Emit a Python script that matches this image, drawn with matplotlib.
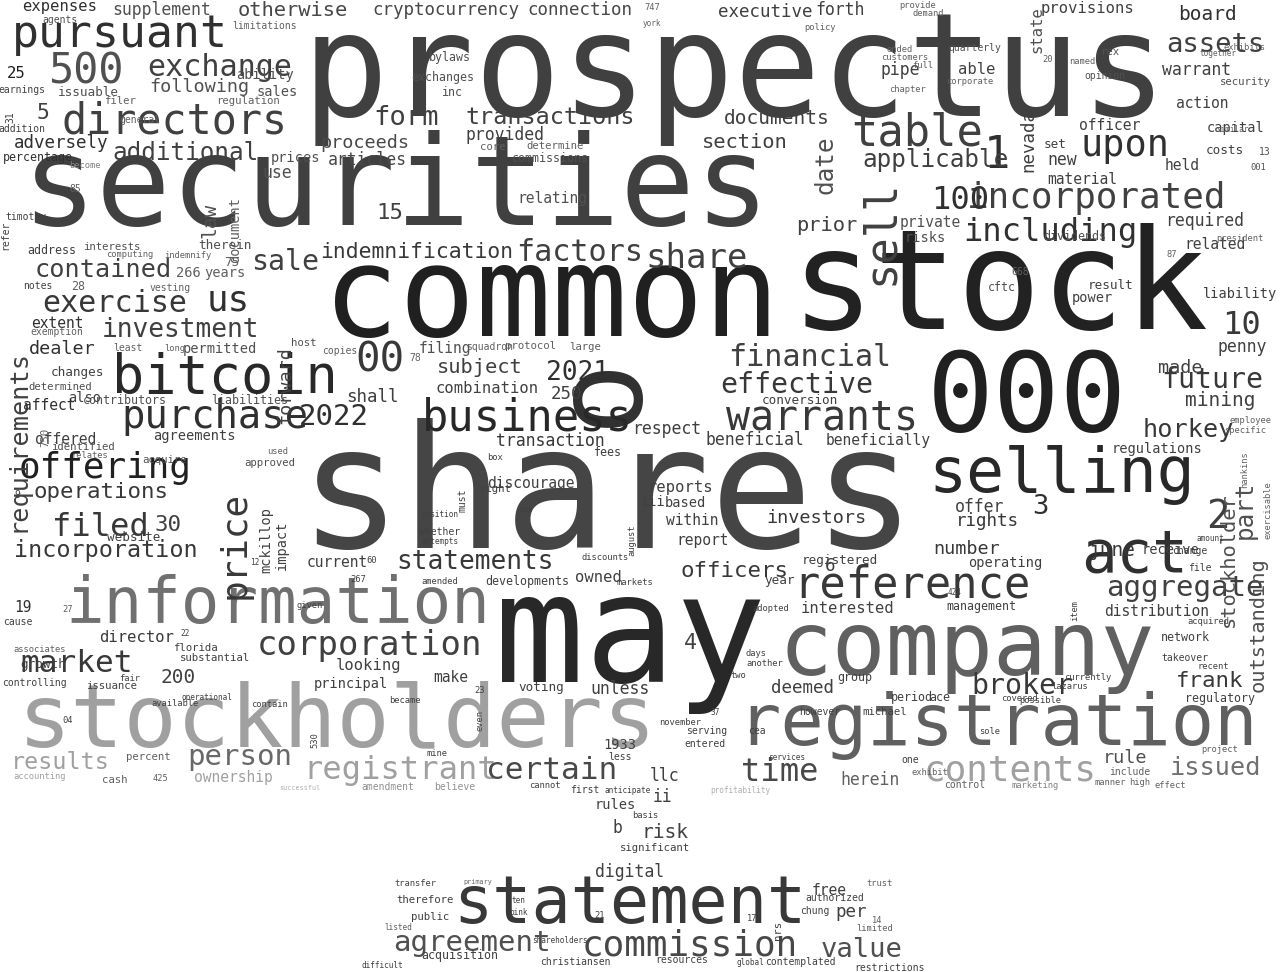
import matplotlib
matplotlib.use("Agg")
import matplotlib.pyplot as plt

# word cloud layout: word, x, y (pixel centres), size (px), grey (0-255), rotation
cloud = [
    ("prospectus", 735, 75, 148, 0x40, 0), ("securities", 395, 190, 128, 0x40, 0),
    ("common", 551, 300, 130, 0x20, 0), ("stock", 1000, 290, 143, 0x22, 0),
    ("shares", 607, 500, 176, 0x45, 0), ("may", 630, 640, 155, 0x28, 0),
    ("000", 1027, 400, 114, 0x20, 0), ("o", 600, 390, 125, 0x30, 90),
    ("information", 278, 605, 66, 0x70, 0), ("stockholders", 337, 722, 91, 0xa0, 0),
    ("company", 967, 650, 92, 0x60, 0), ("registration", 997, 725, 74, 0x60, 0),
    ("act", 1135, 555, 61, 0x30, 0), ("selling", 1062, 475, 65, 0x28, 0),
    ("statement", 630, 905, 67, 0x38, 0), ("bitcoin", 225, 378, 55, 0x28, 0),
    ("pursuant", 120, 35, 46, 0x30, 0), ("directors", 175, 122, 43, 0x40, 0),
    ("500", 86, 72, 43, 0x50, 0), ("exchange", 220, 67, 31, 0x40, 0),
    ("table", 917, 133, 45, 0x40, 0), ("upon", 1125, 145, 38, 0x30, 0),
    ("1", 997, 155, 45, 0x30, 0), ("incorporated", 1097, 198, 37, 0x40, 0),
    ("100", 960, 200, 33, 0x30, 0), ("sell", 880, 232, 45, 0x40, 90),
    ("including", 1050, 232, 33, 0x30, 0), ("reference", 912, 585, 45, 0x38, 0),
    ("price", 235, 545, 37, 0x38, 90), ("purchase", 215, 417, 40, 0x30, 0),
    ("business", 527, 418, 45, 0x28, 0), ("warrants", 822, 418, 41, 0x38, 0),
    ("financial", 810, 357, 31, 0x40, 0), ("effective", 797, 385, 29, 0x38, 0),
    ("2022", 334, 417, 30, 0x30, 0), ("offering", 105, 468, 37, 0x20, 0),
    ("filed", 100, 527, 33, 0x38, 0), ("exercise", 115, 303, 31, 0x38, 0),
    ("us", 228, 300, 37, 0x30, 0), ("investment", 180, 330, 27, 0x40, 0),
    ("contained", 103, 270, 26, 0x40, 0), ("00", 380, 360, 42, 0x38, 0),
    ("market", 77, 663, 32, 0x38, 0), ("corporation", 370, 645, 35, 0x40, 0),
    ("person", 240, 757, 30, 0x68, 0), ("registrant", 400, 770, 33, 0xa0, 0),
    ("contents", 1010, 770, 37, 0xa0, 0), ("certain", 552, 770, 32, 0x48, 0),
    ("time", 780, 772, 33, 0x48, 0), ("issued", 1216, 768, 26, 0x70, 0),
    ("results", 60, 762, 24, 0xa0, 0), ("ownership", 233, 777, 15, 0xa0, 0),
    ("broker", 1022, 686, 29, 0x38, 0), ("frank", 1210, 681, 23, 0x38, 0),
    ("deemed", 802, 688, 18, 0x40, 0), ("aggregate", 1185, 588, 30, 0x40, 0),
    ("2", 1218, 517, 40, 0x40, 0), ("3", 1040, 507, 28, 0x30, 0),
    ("part", 1245, 510, 25, 0x50, 90), ("stockholder", 1228, 560, 21, 0x50, 90),
    ("outstanding", 1258, 625, 21, 0x50, 90), ("future", 1212, 380, 29, 0x38, 0),
    ("mining", 1220, 400, 20, 0x40, 0), ("horkey", 1188, 430, 26, 0x38, 0),
    ("10", 1242, 325, 33, 0x38, 0), ("penny", 1242, 347, 17, 0x40, 0),
    ("made", 1180, 368, 19, 0x40, 0), ("transactions", 550, 117, 24, 0x40, 0),
    ("form", 406, 118, 28, 0x40, 0), ("section", 745, 143, 21, 0x40, 0),
    ("applicable", 935, 160, 25, 0x40, 0), ("documents", 777, 118, 20, 0x40, 0),
    ("executive", 765, 12, 18, 0x40, 0), ("forth", 840, 10, 17, 0x40, 0),
    ("date", 825, 165, 25, 0x50, 90), ("additional", 186, 153, 25, 0x40, 0),
    ("proceeds", 365, 143, 19, 0x48, 0), ("articles", 367, 160, 17, 0x48, 0),
    ("prices", 295, 158, 14, 0x50, 0), ("following", 199, 87, 19, 0x50, 0),
    ("sales", 277, 92, 14, 0x50, 0), ("supplement", 162, 10, 17, 0x50, 0),
    ("otherwise", 293, 11, 21, 0x48, 0), ("cryptocurrency", 446, 10, 18, 0x48, 0),
    ("connection", 580, 10, 18, 0x48, 0), ("expenses", 60, 7, 16, 0x30, 0),
    ("ability", 265, 75, 14, 0x50, 0), ("25", 16, 73, 16, 0x20, 0),
    ("adversely", 61, 143, 18, 0x30, 0), ("percentage", 38, 157, 12, 0x30, 0),
    ("5", 43, 113, 22, 0x40, 0), ("law", 210, 220, 20, 0x50, 90),
    ("document", 235, 230, 14, 0x60, 90), ("use", 277, 173, 17, 0x50, 0),
    ("15", 390, 213, 23, 0x40, 0), ("relating", 552, 198, 15, 0x50, 0),
    ("indemnification", 417, 252, 22, 0x38, 0), ("factors", 580, 252, 31, 0x40, 0),
    ("share", 697, 258, 35, 0x40, 0), ("sale", 285, 262, 29, 0x40, 0),
    ("prior", 827, 225, 21, 0x40, 0), ("requirements", 18, 440, 26, 0x40, 90),
    ("forward", 285, 385, 19, 0x40, 90), ("dealer", 62, 349, 19, 0x30, 0),
    ("2021", 577, 373, 27, 0x30, 0), ("subject", 480, 367, 21, 0x40, 0),
    ("combination", 487, 388, 16, 0x40, 0), ("250", 566, 394, 18, 0x40, 0),
    ("shall", 372, 397, 18, 0x40, 0), ("transaction", 550, 441, 17, 0x38, 0),
    ("officers", 735, 571, 23, 0x38, 0), ("statements", 475, 562, 27, 0x38, 0),
    ("incorporation", 106, 550, 24, 0x38, 0), ("operations", 101, 492, 23, 0x38, 0),
    ("30", 168, 525, 23, 0x40, 0), ("number", 967, 549, 19, 0x38, 0),
    ("june", 1112, 550, 20, 0x38, 0), ("rights", 987, 521, 18, 0x38, 0),
    ("offer", 980, 507, 17, 0x40, 0), ("investors", 816, 518, 19, 0x38, 0),
    ("receive", 1170, 550, 14, 0x40, 0), ("current", 337, 562, 15, 0x40, 0),
    ("director", 137, 637, 16, 0x38, 0), ("looking", 369, 665, 16, 0x40, 0),
    ("200", 178, 677, 20, 0x40, 0), ("principal", 351, 684, 14, 0x40, 0),
    ("make", 451, 677, 15, 0x40, 0), ("unless", 620, 689, 17, 0x40, 0),
    ("voting", 541, 687, 13, 0x40, 0), ("4", 690, 643, 22, 0x40, 0),
    ("llc", 665, 776, 17, 0x40, 0), ("ii", 662, 797, 17, 0x40, 0),
    ("risk", 665, 832, 20, 0x40, 0), ("b", 617, 828, 17, 0x40, 0),
    ("digital", 630, 872, 17, 0x40, 0), ("agreement", 472, 943, 30, 0x50, 0),
    ("commission", 690, 945, 37, 0x48, 0), ("value", 862, 950, 28, 0x50, 0),
    ("per", 851, 912, 18, 0x40, 0), ("free", 829, 890, 15, 0x40, 0),
    ("rule", 1125, 758, 19, 0x50, 0), ("herein", 870, 780, 17, 0x60, 0),
    ("interested", 847, 608, 16, 0x40, 0), ("management", 981, 606, 12, 0x40, 0),
    ("distribution", 1157, 611, 15, 0x40, 0), ("6", 830, 566, 18, 0x40, 0),
    ("1933", 620, 745, 14, 0x40, 0), ("19", 23, 607, 15, 0x30, 0),
    ("growth", 43, 664, 13, 0x40, 0), ("also", 85, 398, 14, 0x40, 0),
    ("offered", 66, 439, 15, 0x40, 0), ("agreements", 194, 436, 14, 0x40, 0),
    ("affect", 49, 405, 15, 0x30, 0), ("changes", 77, 372, 13, 0x40, 0),
    ("extent", 57, 323, 15, 0x30, 0), ("bylaws", 450, 57, 12, 0x50, 0),
    ("exchanges", 443, 77, 12, 0x50, 0), ("inc", 452, 93, 12, 0x50, 0),
    ("provided", 505, 135, 17, 0x40, 0), ("commissions", 550, 158, 12, 0x50, 0),
    ("core", 493, 147, 11, 0x60, 0), ("determine", 555, 146, 11, 0x60, 0),
    ("assets", 1215, 45, 28, 0x40, 0), ("board", 1207, 15, 20, 0x30, 0),
    ("warrant", 1197, 70, 17, 0x40, 0), ("provisions", 1087, 8, 16, 0x40, 0),
    ("state", 1037, 30, 16, 0x50, 90), ("able", 977, 70, 16, 0x40, 0),
    ("pipe", 900, 70, 17, 0x40, 0), ("action", 1202, 103, 15, 0x40, 0),
    ("capital", 1236, 128, 14, 0x40, 0), ("officer", 1110, 125, 15, 0x40, 0),
    ("costs", 1225, 150, 13, 0x40, 0), ("held", 1182, 165, 15, 0x40, 0),
    ("new", 1062, 160, 17, 0x40, 0), ("material", 1082, 180, 15, 0x40, 0),
    ("nevada", 1028, 140, 18, 0x40, 90), ("set", 1055, 145, 13, 0x40, 0),
    ("required", 1205, 221, 17, 0x40, 0), ("related", 1215, 244, 15, 0x40, 0),
    ("dividends", 1075, 236, 12, 0x50, 0), ("private", 930, 222, 15, 0x50, 0),
    ("risks", 925, 238, 14, 0x50, 0), ("liability", 1240, 294, 14, 0x40, 0),
    ("power", 1092, 298, 14, 0x40, 0), ("result", 1111, 285, 13, 0x40, 0),
    ("cftc", 1002, 287, 12, 0x50, 0), ("regulations", 1157, 449, 14, 0x40, 0),
    ("beneficially", 878, 440, 15, 0x40, 0), ("beneficial", 755, 440, 17, 0x40, 0),
    ("respect", 667, 429, 17, 0x40, 0), ("conversion", 800, 400, 13, 0x40, 0),
    ("reports", 680, 487, 16, 0x40, 0), ("report", 703, 540, 15, 0x40, 0),
    ("within", 692, 520, 15, 0x40, 0), ("discourage", 531, 483, 15, 0x40, 0),
    ("developments", 527, 581, 12, 0x40, 0), ("owned", 598, 577, 16, 0x40, 0),
    ("registered", 840, 560, 13, 0x40, 0), ("operating", 1005, 563, 14, 0x40, 0),
    ("year", 780, 580, 13, 0x40, 0), ("mckillop", 266, 540, 14, 0x40, 90),
    ("impact", 282, 545, 14, 0x40, 90), ("website", 134, 537, 13, 0x40, 0),
    ("based", 685, 503, 14, 0x40, 0), ("iii", 653, 502, 14, 0x40, 0),
    # small fillers
    ("agents", 60, 20, 10, 0x50, 0), ("limitations", 265, 26, 10, 0x60, 0),
    ("general", 140, 120, 10, 0x60, 0), ("regulation", 248, 101, 11, 0x60, 0),
    ("filer", 120, 101, 11, 0x60, 0), ("issuable", 88, 92, 13, 0x50, 0),
    ("earnings", 22, 90, 10, 0x40, 0), ("addition", 22, 129, 10, 0x40, 0),
    ("31", 10, 117, 10, 0x40, 90), ("become", 85, 165, 9, 0x80, 0),
    ("85", 75, 189, 10, 0x60, 0), ("refer", 5, 235, 10, 0x40, 90),
    ("timothy", 26, 217, 10, 0x40, 0), ("address", 52, 250, 12, 0x40, 0),
    ("interests", 112, 247, 11, 0x50, 0), ("computing", 130, 254, 9, 0x60, 0),
    ("indemnify", 188, 255, 9, 0x60, 0), ("therein", 225, 245, 13, 0x50, 0),
    ("266", 188, 273, 14, 0x60, 0), ("years", 225, 273, 14, 0x60, 0),
    ("75", 232, 262, 13, 0x60, 0), ("28", 78, 286, 12, 0x60, 0),
    ("notes", 38, 286, 10, 0x40, 0), ("vesting", 170, 288, 10, 0x60, 0),
    ("exemption", 57, 332, 10, 0x60, 0), ("least", 128, 348, 10, 0x60, 0),
    ("long", 175, 348, 9, 0x60, 0), ("permitted", 220, 349, 14, 0x50, 0),
    ("host", 304, 343, 11, 0x50, 0), ("copies", 340, 351, 10, 0x60, 0),
    ("78", 415, 358, 10, 0x60, 0), ("filing", 445, 348, 15, 0x50, 0),
    ("squadron", 490, 347, 10, 0x60, 0), ("protocol", 530, 346, 11, 0x60, 0),
    ("large", 585, 347, 11, 0x60, 0), ("determined", 60, 387, 11, 0x50, 0),
    ("contributors", 125, 400, 12, 0x50, 0), ("liabilities", 250, 400, 12, 0x50, 0),
    ("identified", 83, 447, 11, 0x50, 0), ("relates", 90, 455, 9, 0x60, 0),
    ("acquire", 165, 460, 11, 0x50, 0), ("used", 278, 451, 9, 0x60, 0),
    ("approved", 270, 463, 11, 0x50, 0), ("750", 45, 437, 11, 0x60, 90),
    ("9", 17, 495, 10, 0x40, 0), ("27", 68, 609, 9, 0x60, 0),
    ("cause", 18, 622, 10, 0x40, 0), ("associates", 40, 649, 9, 0x60, 0),
    ("controlling", 34, 683, 10, 0x40, 0), ("04", 68, 720, 9, 0x40, 0),
    ("cash", 115, 780, 11, 0x60, 0), ("425", 160, 778, 9, 0x60, 0),
    ("percent", 148, 757, 11, 0x60, 0), ("accounting", 40, 776, 9, 0xa0, 0),
    ("747", 652, 7, 9, 0x60, 0), ("york", 652, 23, 8, 0x60, 0),
    ("policy", 820, 27, 9, 0x60, 0), ("demand", 928, 14, 9, 0x60, 0),
    ("provide", 918, 5, 9, 0x60, 0), ("ended", 900, 49, 9, 0x60, 0),
    ("customers", 905, 58, 9, 0x60, 0), ("full", 923, 66, 9, 0x60, 0),
    ("chapter", 908, 89, 9, 0x60, 0), ("corporate", 970, 81, 9, 0x60, 0),
    ("quarterly", 975, 48, 10, 0x50, 0), ("668", 1020, 272, 10, 0x60, 0),
    ("20", 1048, 60, 9, 0x60, 0), ("named", 1082, 62, 9, 0x60, 0),
    ("rex", 1110, 52, 11, 0x50, 0), ("opinion", 1105, 76, 10, 0x50, 0),
    ("exhibits", 1245, 47, 9, 0x60, 0), ("together", 1218, 54, 8, 0x60, 0),
    ("security", 1245, 82, 11, 0x50, 0), ("president", 1240, 238, 9, 0x60, 0),
    ("13", 1265, 152, 10, 0x50, 0), ("001", 1258, 167, 9, 0x50, 0),
    ("87", 1172, 254, 9, 0x60, 0), ("similar", 1232, 130, 8, 0x60, 0),
    ("employee", 1250, 420, 9, 0x60, 0), ("specific", 1245, 430, 9, 0x60, 0),
    ("exercisable", 1268, 510, 9, 0x60, 90), ("hankins", 1245, 470, 9, 0x60, 90),
    ("transfer", 415, 883, 9, 0x40, 0), ("primary", 478, 882, 7, 0x60, 0),
    ("therefore", 425, 900, 11, 0x40, 0), ("public", 430, 917, 11, 0x40, 0),
    ("acquisition", 460, 955, 12, 0x40, 0), ("christiansen", 575, 962, 10, 0x40, 0),
    ("resources", 682, 960, 10, 0x40, 0), ("contemplated", 800, 962, 10, 0x40, 0),
    ("global", 750, 962, 8, 0x40, 0), ("restrictions", 890, 968, 10, 0x40, 0),
    ("trust", 880, 883, 9, 0x60, 0), ("authorized", 835, 898, 10, 0x40, 0),
    ("limited", 875, 928, 9, 0x60, 0), ("14", 877, 920, 9, 0x60, 0),
    ("chung", 815, 911, 10, 0x40, 0), ("17", 752, 918, 9, 0x40, 0),
    ("nrs", 778, 930, 11, 0x40, 90), ("ten", 518, 900, 8, 0x40, 0),
    ("pink", 518, 912, 8, 0x40, 0), ("21", 600, 915, 9, 0x40, 0),
    ("listed", 398, 927, 8, 0x60, 0), ("difficult", 382, 965, 8, 0x40, 0),
    ("shareholders", 560, 940, 8, 0x40, 0), ("fair", 130, 678, 9, 0x40, 0),
    ("issuance", 112, 686, 11, 0x40, 0), ("became", 405, 700, 9, 0x40, 0),
    ("23", 480, 690, 9, 0x40, 0), ("even", 480, 720, 9, 0x40, 90),
    ("mine", 437, 753, 9, 0x40, 0), ("less", 620, 757, 10, 0x40, 0),
    ("530", 315, 740, 9, 0x40, 90), ("successful", 300, 788, 7, 0xb0, 0),
    ("amendment", 388, 787, 10, 0x90, 0), ("believe", 455, 787, 10, 0x90, 0),
    ("cannot", 545, 785, 9, 0x40, 0), ("first", 585, 790, 10, 0x40, 0),
    ("anticipate", 628, 790, 8, 0x40, 0), ("rules", 615, 805, 14, 0x40, 0),
    ("basis", 645, 815, 9, 0x40, 0), ("significant", 655, 848, 11, 0x40, 0),
    ("group", 855, 677, 12, 0x40, 0), ("period", 912, 697, 12, 0x40, 0),
    ("ace", 940, 697, 12, 0x40, 0), ("covered", 1020, 698, 9, 0x40, 0),
    ("possible", 1040, 700, 9, 0x40, 0), ("lazarus", 1070, 686, 9, 0x40, 0),
    ("currently", 1088, 677, 9, 0x40, 0), ("michael", 885, 712, 11, 0x40, 0),
    ("however", 820, 712, 10, 0x40, 0), ("another", 765, 663, 9, 0x40, 0),
    ("two", 738, 675, 9, 0x40, 0), ("cea", 757, 731, 10, 0x40, 0),
    ("sole", 990, 731, 9, 0x40, 0), ("one", 910, 760, 10, 0x40, 0),
    ("exhibit", 930, 772, 9, 0x60, 0), ("control", 965, 785, 10, 0x60, 0),
    ("marketing", 1035, 785, 9, 0x80, 0), ("manner", 1110, 782, 9, 0x60, 0),
    ("high", 1140, 782, 9, 0x60, 0), ("effect", 1170, 785, 9, 0x60, 0),
    ("include", 1130, 772, 10, 0x60, 0), ("project", 1220, 749, 9, 0x60, 0),
    ("regulatory", 1220, 698, 12, 0x40, 0), ("recent", 1213, 666, 9, 0x40, 0),
    ("takeover", 1185, 658, 10, 0x40, 0), ("network", 1185, 637, 12, 0x40, 0),
    ("acquired", 1208, 621, 9, 0x40, 0), ("file", 1200, 568, 10, 0x40, 0),
    ("change", 1190, 551, 10, 0x40, 0), ("amount", 1210, 538, 8, 0x40, 0),
    ("424", 955, 592, 8, 0x40, 0), ("adopted", 771, 608, 9, 0x40, 0),
    ("days", 756, 653, 9, 0x40, 0), ("item", 1075, 610, 9, 0x40, 90),
    ("substantial", 215, 658, 11, 0x40, 0), ("available", 175, 703, 9, 0x40, 0),
    ("operational", 207, 697, 8, 0x40, 0), ("contain", 270, 704, 9, 0x40, 0),
    ("florida", 195, 648, 11, 0x40, 0), ("22", 185, 633, 8, 0x40, 0),
    ("12", 255, 562, 8, 0x40, 0), ("60", 372, 560, 9, 0x40, 0),
    ("267", 358, 579, 9, 0x40, 0), ("given", 310, 605, 9, 0x40, 0),
    ("serving", 707, 731, 10, 0x40, 0), ("november", 680, 722, 9, 0x40, 0),
    ("entered", 705, 744, 10, 0x40, 0), ("37", 715, 712, 8, 0x40, 0),
    ("services", 787, 757, 8, 0x40, 0), ("profitability", 740, 790, 8, 0xb0, 0),
    ("amended", 440, 581, 9, 0x40, 0), ("markets", 635, 582, 9, 0x40, 0),
    ("august", 632, 540, 9, 0x40, 90), ("discounts", 605, 557, 9, 0x40, 0),
    ("whether", 440, 532, 10, 0x40, 0), ("attempts", 440, 541, 8, 0x40, 0),
    ("position", 440, 514, 8, 0x40, 0), ("must", 462, 500, 10, 0x40, 90),
    ("fees", 608, 452, 12, 0x40, 0), ("right", 495, 489, 11, 0x40, 0),
    ("com", 525, 509, 8, 0x40, 0), ("box", 495, 457, 9, 0x40, 0),
]
words = [c[0] for c in cloud]
xs = [c[1] for c in cloud]
ys = [c[2] for c in cloud]
sizes = [c[3] for c in cloud]
shades = [c[4] for c in cloud]
rots = [c[5] for c in cloud]

fig = plt.figure(figsize=(12.8, 9.72), dpi=100)
ax = fig.add_axes([0, 0, 1, 1])
ax.set_xlim(0, 1280)
ax.set_ylim(972, 0)
ax.axis("off")

for w, x, y, s, g, r in zip(words, xs, ys, sizes, shades, rots):
    ax.text(x, y, w, fontsize=s * 0.70, color=(g / 255, g / 255, g / 255),
            rotation=r, ha="center", va="center", family="DejaVu Sans Mono")

fig.savefig("out.png", dpi=100, facecolor="white")
